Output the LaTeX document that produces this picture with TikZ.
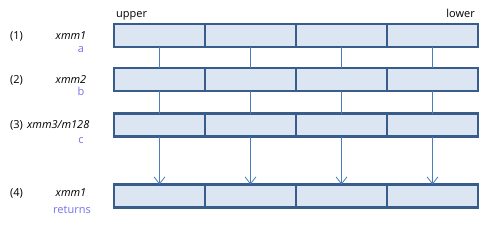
\documentclass[tikz,border=0pt]{standalone}
\usepackage{fontspec}
\setmainfont{Open Sans}
\usetikzlibrary{arrows.meta}
\definecolor{boxdraw}{HTML}{385D8A}
\definecolor{boxfill}{HTML}{DCE6F2}
\definecolor{conn}{HTML}{4A7EBB}
\definecolor{lbl}{HTML}{7272EE}
\begin{document}
\begin{tikzpicture}[x=1pt,y=-1pt,
  cell/.style={draw=boxdraw,fill=boxfill,line width=2.2pt,minimum width=91pt,minimum height=23pt,inner sep=0pt,outer sep=0pt},
  txt/.style={font=\fontsize{11}{13}\selectfont,inner sep=0pt},
  reg/.style={txt,font=\fontsize{11}{13}\selectfont\itshape},
  sub/.style={txt,text=lbl},
  link/.style={draw=conn,line width=0.8pt},
  flow/.style={link,-{Straight Barb[length=7pt,width=11pt,line width=0.8pt]}}]
\useasboundingbox (0,0) rectangle (484,225);
\foreach \r/\y in {1/35.5,2/79.5,3/125,4/196}{
  \foreach \c/\x in {1/159.5,2/250.5,3/341.5,4/432.5}{
    \node[cell] (r\r c\c) at (\x,\y) {};
  }
}
\foreach \c in {1,2,3,4}{
  \draw[link] (r1c\c.south) -- (r2c\c.north);
  \draw[link] (r2c\c.south) -- (r3c\c.north);
  \draw[flow] (r3c\c.south) -- (r4c\c.north);
}
\node[txt,anchor=base west] (up) at (116,17) {upper};
\node[txt,anchor=base east] (lo) at (475,17) {lower};
\node[txt,anchor=base west] (n1) at (10,39) {(1)};
\node[reg,anchor=base] (x1) at (71,39) {xmm1};
\node[sub,anchor=base] (s1) at (81,52) {a};
\node[txt,anchor=base west] (n2) at (10,83) {(2)};
\node[reg,anchor=base] (x2) at (71,83) {xmm2};
\node[sub,anchor=base] (s2) at (81,95) {b};
\node[txt,anchor=base west] (n3) at (10,128) {(3)};
\node[reg,anchor=base west] (x3) at (27,128) {xmm3/m128};
\node[sub,anchor=base] (s3) at (81,143) {c};
\node[txt,anchor=base west] (n4) at (10,196) {(4)};
\node[reg,anchor=base] (x4) at (71,196) {xmm1};
\node[sub,anchor=base] (s4) at (72,213) {returns};
\end{tikzpicture}
\end{document}
